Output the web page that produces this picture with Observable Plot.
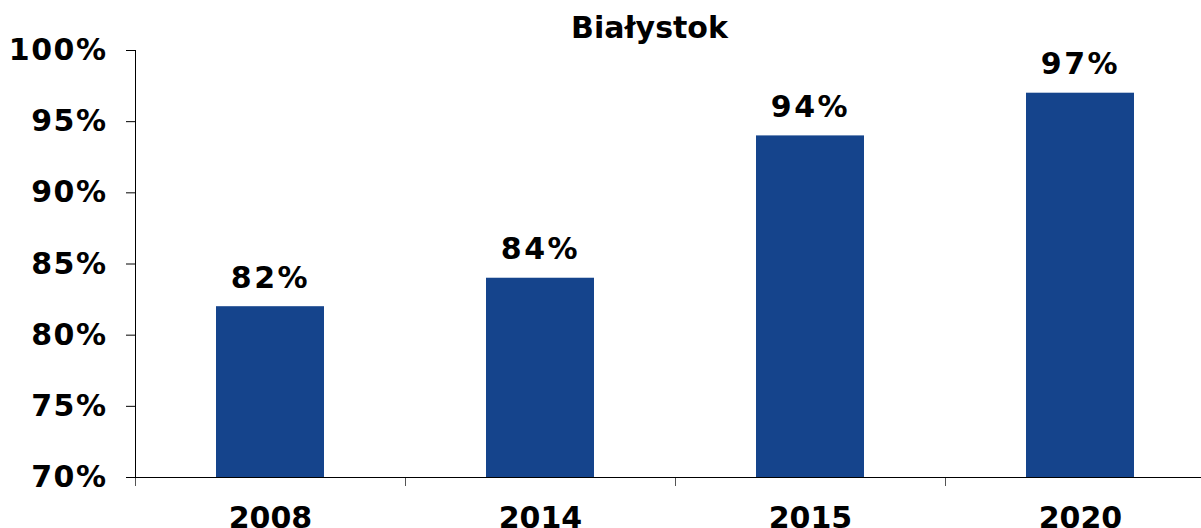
<!DOCTYPE html>
<html>
<head>
<meta charset="utf-8">
<script src="https://cdn.jsdelivr.net/npm/d3@7"></script>
<script src="https://cdn.jsdelivr.net/npm/@observablehq/plot@0.6"></script>
<style>
  html, body { margin: 0; padding: 0; background: #fff; overflow: hidden; }
  svg { display: block; max-width: none !important; }
  g[aria-label="y-axis tick label"] text { letter-spacing: 1.5px; }
</style>
</head>
<body>
<div id="chart"></div>
<script>
const title = "Białystok";
const years = ["2008", "2014", "2015", "2020"];
const shares = [82, 84, 94, 97];
const yTicks = [70, 75, 80, 85, 90, 95, 100];

const data = years.map((y, i) => ({year: y, value: shares[i]}));

const W = 1215, H = 528, ML = 135, MR = 0, MT = 50, MB = 51;
const step = (W - ML - MR) / years.length;
const font = "'DejaVu Sans', Verdana, sans-serif";

const chart = Plot.plot({
  width: W,
  height: H,
  marginLeft: ML,
  marginRight: MR,
  marginTop: MT,
  marginBottom: MB,
  style: {fontFamily: font, background: "#fff", overflow: "visible", maxWidth: "none"},
  x: {domain: years, paddingInner: 0.6, paddingOuter: 0.3, label: null},
  y: {domain: [70, 100], label: null},
  marks: [
    Plot.barY(data, {x: "year", y1: 70, y2: "value", fill: "#15448c"}),
    Plot.text(data, {x: "year", y: "value", text: d => d.value + "%", lineAnchor: "bottom", dy: -19,
      fontSize: 30, fontWeight: "bold", fill: "#000"}),
    Plot.axisY({ticks: yTicks, tickFormat: d => d + "%", tickSize: 9, tickPadding: 19,
      fontSize: 30, fontWeight: "bold", color: "#000", stroke: "#000", label: null}),
    Plot.axisX({tickSize: 0, tickPadding: 29, fontSize: 30, fontWeight: "bold", color: "#000", label: null}),
    Plot.axisX({tickSize: 9, text: null, dx: -step / 2, stroke: "#555", label: null}),
    Plot.ruleY([70], {stroke: "#000", strokeWidth: 1.2}),
    Plot.frame({anchor: "left", stroke: "#000"}),
    Plot.text([title], {frameAnchor: "top", text: d => d, lineAnchor: "bottom", dy: -13, dx: -26,
      fontSize: 30, fontWeight: "bold", fill: "#000"})
  ]
});
const textGroups = chart.querySelectorAll('g[aria-label="text"]');
if (textGroups.length) {
  textGroups[0].querySelectorAll("text").forEach(t => t.style.letterSpacing = "2.5px");
}
document.getElementById("chart").appendChild(chart);
</script>
</body>
</html>
